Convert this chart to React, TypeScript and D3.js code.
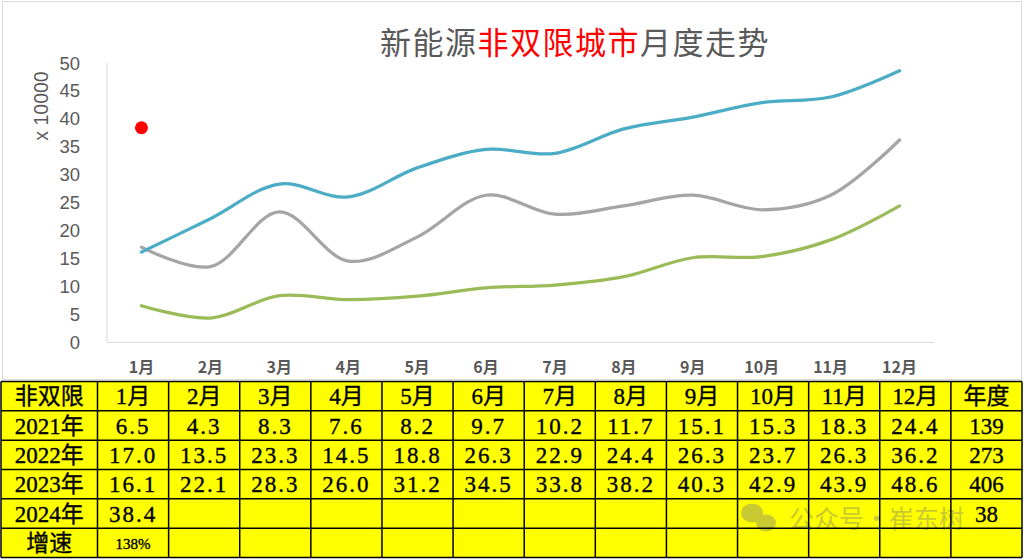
import React from "react";
import * as d3 from "d3";

const months = ["1月", "2月", "3月", "4月", "5月", "6月", "7月", "8月", "9月", "10月", "11月", "12月"];
const s2021 = [6.5, 4.3, 8.3, 7.6, 8.2, 9.7, 10.2, 11.7, 15.1, 15.3, 18.3, 24.4];
const s2022 = [17.0, 13.5, 23.3, 14.5, 18.8, 26.3, 22.9, 24.4, 26.3, 23.7, 26.3, 36.2];
const s2023 = [16.1, 22.1, 28.3, 26.0, 31.2, 34.5, 33.8, 38.2, 40.3, 42.9, 43.9, 48.6];
const s2024 = [38.4];
const annual = ["139", "273", "406", "38"];
const growth = ["138%"];
const rowLabels = ["2021年", "2022年", "2023年", "2024年", "增速"];
const yTicks = [0, 5, 10, 15, 20, 25, 30, 35, 40, 45, 50];

const W = 1024;
const H = 559;
const tableFont = "'Liberation Serif', 'Noto Sans CJK SC', serif";
const sans = "'Liberation Sans', Arial, 'Noto Sans CJK SC', sans-serif";
const cjk = "'Noto Sans CJK SC', sans-serif";

export default function App() {
  const x = d3.scaleBand<string>().domain(months).range([107, 934]);
  const y = d3.scaleLinear().domain([0, 50]).range([342, 63]);
  const cx = (m: string) => (x(m) as number) + x.bandwidth() / 2;
  const line = d3
    .line<number>()
    .x((_, i) => cx(months[i]))
    .y((d) => y(d))
    .curve(d3.curveCatmullRom.alpha(0.5));

  const series = [
    { data: s2021, color: "#9bbb59" },
    { data: s2022, color: "#a5a5a5" },
    { data: s2023, color: "#4bacc6" },
  ];

  const colEdges = [1, 97.5];
  const colW = (1022 - 97.5) / 13;
  for (let i = 1; i <= 13; i++) colEdges.push(97.5 + colW * i);
  const rowTop = 381.5;
  const rowH = (557.5 - 381.5) / 6;
  const rowEdges = d3.range(7).map((i) => rowTop + rowH * i);

  const header = ["非双限", ...months, "年度"];
  const rows: string[][] = [
    [rowLabels[0], ...s2021.map((v) => v.toFixed(1)), annual[0]],
    [rowLabels[1], ...s2022.map((v) => v.toFixed(1)), annual[1]],
    [rowLabels[2], ...s2023.map((v) => v.toFixed(1)), annual[2]],
    [rowLabels[3], ...months.map((_, i) => (s2024[i] !== undefined ? s2024[i].toFixed(1) : "")), annual[3]],
    [rowLabels[4], ...months.map((_, i) => growth[i] ?? ""), ""],
  ];
  const allRows = [header, ...rows];

  return (
    <div style={{ position: "absolute", left: 0, top: 0 }}>
      <svg width={W} height={H} style={{ display: "block" }}>
        <rect x={0} y={0} width={W} height={H} fill="#ffffff" />
        <rect x={2.5} y={1.5} width={1019} height={378} fill="#ffffff" stroke="#d9d9d9" strokeWidth={1} />
        <text x={575} y={54} textAnchor="middle" fontFamily={cjk} fontSize={31} letterSpacing={1.5} fill="#595959">
          新能源<tspan fill="#ff0000">非双限城市</tspan>月度走势
        </text>
        <line x1={107} x2={107} y1={63} y2={342} stroke="#d9d9d9" strokeWidth={1} />
        <line x1={107} x2={934} y1={342.5} y2={342.5} stroke="#d9d9d9" strokeWidth={1} />
        {yTicks.map((t) => (
          <text key={t} x={80} y={y(t) + 6.5} textAnchor="end" fontFamily={sans} fontSize={18.5} fill="#595959">
            {t}
          </text>
        ))}
        <text
          transform="translate(48,106) rotate(-90)"
          textAnchor="middle"
          fontFamily={sans}
          fontSize={19.5}
          fill="#595959"
        >
          x 10000
        </text>
        {months.map((m) => (
          <text key={m} x={cx(m)} y={373} textAnchor="middle" fontFamily={cjk} fontWeight="bold" fontSize={16} fill="#595959">
            {m}
          </text>
        ))}
        {series.map((s, i) => (
          <path key={i} d={line(s.data) as string} fill="none" stroke={s.color} strokeWidth={3.25} strokeLinecap="round" />
        ))}
        {s2024.map((v, i) => (
          <circle key={i} cx={cx(months[i])} cy={y(v)} r={6.5} fill="#ff0000" />
        ))}
        <rect x={colEdges[0]} y={rowEdges[0]} width={colEdges[14] - colEdges[0]} height={rowEdges[6] - rowEdges[0]} fill="#ffff00" />
        <g opacity={0.4}>
          <ellipse cx={752} cy={513} rx={11} ry={9.5} fill="#7a7a7a" />
          <ellipse cx={766} cy={523} rx={10} ry={8.5} fill="#7a7a7a" />
          <text x={789} y={528} fontFamily={cjk} fontSize={25} fill="#7a7a7a">
            公众号·崔东树
          </text>
        </g>
        {allRows.map((r, ri) =>
          r.map((cell, ci) => {
            const cxm = (colEdges[ci] + colEdges[ci + 1]) / 2;
            const isGrowth = ri === 5 && ci > 0;
            return cell ? (
              <text
                key={`${ri}-${ci}`}
                x={cxm}
                y={rowEdges[ri] + rowH / 2 + (isGrowth ? 6 : 8)}
                textAnchor="middle"
                fontFamily={tableFont}
                fontSize={isGrowth ? 15 : 23}
                letterSpacing={/^\d+\.\d$/.test(cell) ? 2 : 0}
                fill="#000000"
                stroke="#000000"
                strokeWidth={0.35}
              >
                {cell}
              </text>
            ) : null;
          })
        )}
        {rowEdges.map((ry, i) => (
          <line key={`h${i}`} x1={colEdges[0]} x2={colEdges[14]} y1={ry} y2={ry} stroke="#000" strokeWidth={1.5} />
        ))}
        {colEdges.map((cxe, i) => (
          <line key={`v${i}`} x1={cxe} x2={cxe} y1={rowEdges[0]} y2={rowEdges[6]} stroke="#000" strokeWidth={1.5} />
        ))}
      </svg>
    </div>
  );
}
